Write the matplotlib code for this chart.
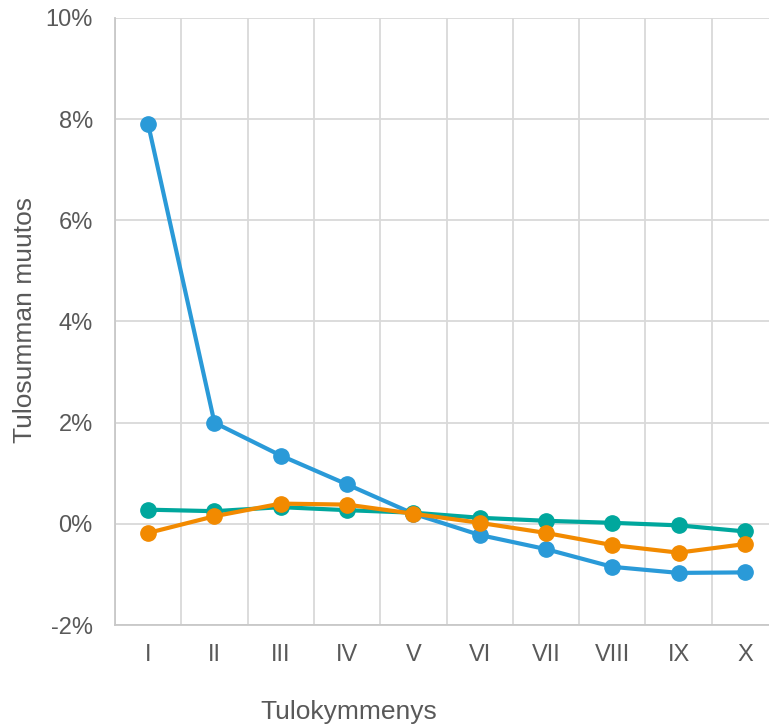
import numpy as np
import matplotlib.pyplot as plt
from matplotlib.ticker import FuncFormatter, MultipleLocator

plt.rcParams['font.family'] = ['Liberation Sans', 'DejaVu Sans']

# tulokymmenykset
deciles = ['I', 'II', 'III', 'IV', 'V', 'VI', 'VII', 'VIII', 'IX', 'X']

# tulosumman muutos (%)
blue = [7.9, 2.0, 1.35, 0.78, 0.2, -0.22, -0.5, -0.85, -0.97, -0.96]
teal = [0.28, 0.25, 0.33, 0.27, 0.22, 0.12, 0.06, 0.02, -0.03, -0.15]
orange = [-0.18, 0.15, 0.4, 0.38, 0.2, 0.02, -0.18, -0.42, -0.57, -0.4]

fig = plt.figure(figsize=(7.69, 7.28), dpi=100)
ax = fig.add_axes([115/769, 1 - 625/728, 663/769, 607/728])

x = np.arange(len(deciles))
ax.plot(x, blue, color='#2a9ad8', lw=3, marker='o', ms=11, zorder=3)
ax.plot(x, teal, color='#00a79d', lw=3, marker='o', ms=11, zorder=4)
ax.plot(x, orange, color='#f28a00', lw=3, marker='o', ms=11, zorder=5)

ax.set_xlim(-0.5, len(deciles) - 0.5)
ax.set_ylim(-2, 10)
ax.yaxis.set_major_locator(MultipleLocator(2))
ax.yaxis.set_major_formatter(FuncFormatter(lambda v, p: f'{v:.0f}%'))
ax.set_xticks(x)
ax.set_xticklabels(deciles)
ax.set_xticks(np.arange(-0.5, len(deciles)), minor=True)

ax.grid(axis='y', color='#d9d9d9', lw=1.3)
ax.grid(axis='x', which='minor', color='#d9d9d9', lw=1.3)
ax.set_axisbelow(True)
ax.tick_params(which='both', length=0, colors='#595959', labelsize=17)
ax.tick_params(axis='x', pad=14)
ax.tick_params(axis='y', pad=16)
for s in ['top', 'right']:
    ax.spines[s].set_visible(False)
for s in ['left', 'bottom']:
    ax.spines[s].set_color('#c8c8c8')
    ax.spines[s].set_linewidth(1.3)

fig.text(25/769, 1 - 320/728, 'Tulosumman muutos', rotation=90, ha='center', va='center',
         fontsize=19, color='#595959')
fig.text(349/769, 1 - 712/728, 'Tulokymmenys', ha='center', va='center',
         fontsize=19, color='#595959')

fig.savefig('out.png', dpi=100)
